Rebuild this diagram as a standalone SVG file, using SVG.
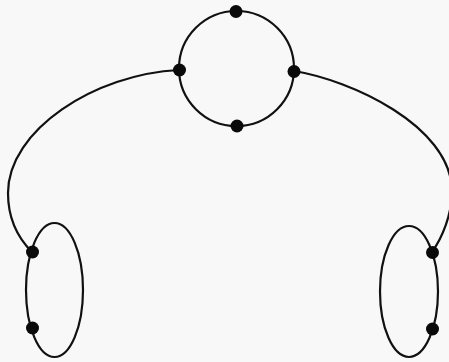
<svg xmlns="http://www.w3.org/2000/svg" width="449" height="362" viewBox="0 0 449 362">
<style>
.ln{fill:none;stroke:#111;stroke-width:2.2}
.dot{fill:#0a0a0a}
</style>
<rect width="449" height="362" fill="#f8f8f8"/>
<g id="connectors">
<path class="ln" d="M179,70 C95,74 8,130 8,193 C8,218 18,238 32,252"/>
<path class="ln" d="M294,71 C350,80 450,125 452,190 C452,215 442,238 432,252"/>
</g>
<g id="top-ring">
<circle class="ln" cx="236.5" cy="68.5" r="57.5"/>
<circle class="dot" cx="236" cy="11.5" r="6.5"/>
<circle class="dot" cx="179.5" cy="70" r="6.5"/>
<circle class="dot" cx="294" cy="71.5" r="6.5"/>
<circle class="dot" cx="237" cy="126" r="6.5"/>
</g>
<g id="left-ring">
<ellipse class="ln" cx="54.5" cy="290" rx="28.5" ry="67"/>
<circle class="dot" cx="32.5" cy="252" r="6.5"/>
<circle class="dot" cx="32.5" cy="328" r="6.5"/>
</g>
<g id="right-ring">
<ellipse class="ln" cx="409" cy="291.5" rx="29" ry="65.5"/>
<circle class="dot" cx="432.5" cy="252.5" r="6.5"/>
<circle class="dot" cx="432.5" cy="329" r="6.5"/>
</g>
</svg>
